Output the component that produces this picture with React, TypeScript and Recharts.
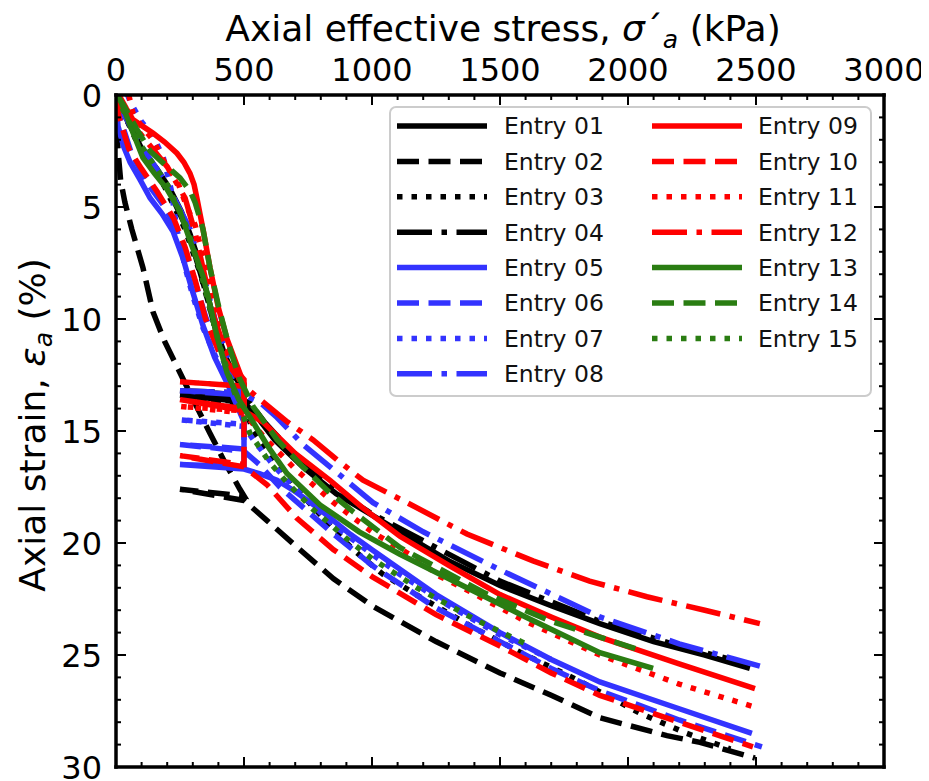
import React from 'react';
import { LineChart, Line, XAxis, YAxis, Legend } from 'recharts';

type Pt = [number, number];

// ---- Data: [axial effective stress (kPa), axial strain (%)] ----
const e01: Pt[] = [[0,0],[20,0.5],[43,1.1],[105,2.5],[160,3.3],[211,4.2],[255,5.2],[289,6.2],[315,7.1],[340,8.2],[368,9.4],[395,10.6],[425,11.6],[460,12.5],[500,13.2],[500,13.6],[250,13.4],[500,13.7],[560,14.5],[620,15.4],[730,16.6],[860,17.8],[992,18.7],[1109,19.5],[1300,20.8],[1500,21.9],[1700,22.8],[1890,23.6],[2100,24.4],[2300,25.0],[2476,25.6]];
const e02: Pt[] = [[0,0],[3,1.2],[8,2.5],[18,3.8],[35,4.8],[62,6.0],[105,7.7],[145,9.7],[190,11.0],[250,12.4],[310,13.8],[367,15.1],[425,16.4],[484,17.6],[500,17.9],[250,17.6],[500,18.1],[590,19.0],[719,20.3],[850,21.6],[1000,22.8],[1250,24.4],[1500,25.8],[1700,26.8],[1890,27.8],[2152,28.6],[2281,28.9],[2496,29.6]];
const e03: Pt[] = [[0,0],[25,0.7],[90,2.3],[190,4.1],[270,6.0],[330,8.0],[385,10.3],[440,12.2],[500,13.3],[500,13.7],[250,13.5],[500,13.8],[535,15.0],[640,16.6],[730,17.9],[926,20.3],[1043,21.4],[1187,22.4],[1400,23.8],[1600,25.0],[1800,26.1],[2047,27.6],[2230,28.5],[2400,29.2]];
const e04: Pt[] = [[0,0],[30,0.8],[95,2.3],[200,4.1],[282,6.1],[336,8.2],[392,10.6],[448,12.3],[500,13.0],[500,13.3],[250,13.2],[500,13.4],[580,14.6],[700,16.1],[850,17.6],[1000,18.7],[1200,19.9],[1500,21.7],[1890,23.5],[2200,24.6],[2470,25.4]];
const e05: Pt[] = [[0,0.4],[8,1.4],[30,2.3],[55,3.0],[95,3.8],[133,4.6],[180,5.3],[223,6.1],[262,7.3],[300,8.8],[340,10.3],[385,11.7],[440,13.0],[500,14.6],[500,16.6],[250,16.5],[500,16.7],[560,16.9],[629,17.2],[700,17.7],[785,18.4],[914,19.6],[1000,20.3],[1250,22.3],[1500,24.0],[1700,25.2],[1890,26.2],[2200,27.4],[2484,28.5]];
const e06: Pt[] = [[0,0.2],[15,1.0],[60,2.6],[120,3.9],[190,5.0],[250,6.3],[300,8.0],[350,9.9],[400,11.4],[450,12.6],[500,13.6],[500,15.8],[250,15.6],[500,15.9],[560,16.5],[640,17.5],[730,18.4],[850,19.6],[1000,21.0],[1250,22.9],[1500,24.4],[1700,25.6],[1890,26.6],[2200,27.9],[2523,29.1]];
const e07: Pt[] = [[45,0],[60,0.4],[100,1.2],[144,1.8],[185,2.8],[215,4.2],[238,6.0],[270,7.7],[301,9.0],[340,10.4],[390,11.7],[450,12.9],[500,13.8],[500,14.7],[250,14.5],[500,14.8],[550,15.6],[620,16.6],[730,17.9],[850,19.2],[1000,20.5],[1109,21.4],[1300,22.8],[1500,24.1],[1700,25.2]];
const e08: Pt[] = [[0,0],[28,0.8],[100,2.3],[200,4.0],[290,6.0],[345,8.2],[400,10.6],[450,12.0],[500,12.9],[500,13.3],[250,13.2],[500,13.4],[560,13.7],[629,14.4],[730,15.6],[836,16.6],[1004,18.2],[1200,19.5],[1500,21.2],[1890,23.3],[2200,24.5],[2515,25.5]];
const e09: Pt[] = [[0,0],[16,0.1],[40,0.6],[66,1.1],[105,1.4],[144,1.7],[190,2.1],[238,2.6],[265,3.0],[289,3.5],[305,4.0],[316,4.6],[328,5.3],[340,6.0],[367,7.7],[400,9.5],[434,10.9],[470,12.0],[500,12.9],[500,14.0],[250,13.6],[500,14.1],[574,14.6],[700,16.0],[836,17.2],[960,18.4],[1109,19.7],[1300,21.0],[1500,22.3],[1700,23.3],[1890,24.2],[2200,25.4],[2496,26.5]];
const e10: Pt[] = [[0,0.2],[12,1.0],[50,2.4],[100,3.3],[160,4.3],[225,5.5],[270,6.8],[310,8.3],[350,10.0],[400,11.4],[450,12.2],[500,13.0],[500,16.5],[250,16.1],[500,16.6],[590,17.4],[707,18.9],[850,20.3],[1000,21.5],[1250,23.2],[1500,24.6],[1700,25.8],[1890,26.8],[2200,28.0],[2488,29.1]];
const e11: Pt[] = [[50,0],[66,0.8],[100,1.4],[144,2.0],[199,3.2],[238,3.8],[277,5.0],[309,5.8],[340,7.2],[380,9.2],[430,11.2],[470,12.4],[500,13.2],[500,14.1],[250,13.9],[500,14.2],[580,15.3],[700,16.7],[850,18.2],[1000,19.5],[1160,20.6],[1266,21.5],[1371,22.1],[1600,23.5],[1890,25.0],[2200,26.3],[2488,27.3]];
const e12: Pt[] = [[0,0],[30,0.7],[100,1.8],[200,3.2],[270,4.6],[310,6.2],[345,8.0],[385,10.0],[430,11.5],[470,12.3],[500,12.7],[500,13.0],[250,12.8],[500,13.0],[574,13.7],[670,14.6],[770,15.4],[865,16.3],[965,17.2],[1137,18.2],[1371,19.6],[1629,20.8],[1850,21.7],[2074,22.4],[2300,23.0],[2515,23.6]];
const e13: Pt[] = [[0,0],[16,0.2],[60,1.5],[105,2.8],[150,3.5],[199,4.2],[250,5.2],[289,6.5],[315,7.3],[340,8.1],[368,9.4],[395,10.8],[434,12.4],[480,13.6],[535,14.6],[600,15.8],[668,16.9],[797,18.3],[950,19.5],[1109,20.5],[1371,22.0],[1600,23.3],[1890,24.9],[2098,25.6]];
const e14: Pt[] = [[0,0],[27,0.4],[80,1.5],[133,2.5],[190,3.1],[250,3.7],[290,4.3],[309,4.8],[325,5.4],[340,6.0],[367,7.7],[400,9.4],[434,10.9],[480,12.6],[535,13.9],[630,15.4],[730,16.6],[830,17.7],[926,18.6],[1109,20.2],[1434,22.2],[1700,23.5],[2050,24.8]];
const e15: Pt[] = [[0,0],[20,0.5],[100,2.3],[200,4.0],[280,6.0],[340,8.3],[400,11.0],[460,13.2],[523,15.1],[600,16.4],[668,17.3],[770,18.5],[900,19.8],[1000,20.7],[1109,21.5],[1176,22.0],[1400,23.4],[1600,24.5]];

const entryNames = ['Entry 01','Entry 02','Entry 03','Entry 04','Entry 05','Entry 06','Entry 07','Entry 08','Entry 09','Entry 10','Entry 11','Entry 12','Entry 13','Entry 14','Entry 15'];
const entryColors = ['#000000','#000000','#000000','#000000','#3333ff','#3333ff','#3333ff','#3333ff','#ff0000','#ff0000','#ff0000','#ff0000','#2a7d12','#2a7d12','#2a7d12'];
const entryStyles = ['solid','dashed','dotted','dashdot','solid','dashed','dotted','dashdot','solid','dashed','dotted','dashdot','solid','dashed','dotted'];
const entryData = [e01,e02,e03,e04,e05,e06,e07,e08,e09,e10,e11,e12,e13,e14,e15];

const xMajorTicks = [0, 500, 1000, 1500, 2000, 2500, 3000];
const yMajorTicks = [0, 5, 10, 15, 20, 25, 30];

const xAllTicks: number[] = [];
for (let v = 0; v <= 3000; v += 100) xAllTicks.push(v);
const yAllTicks: number[] = [];
for (let v = 0; v <= 30; v += 1) yAllTicks.push(v);

// ---- Layout ----
const W = 921, H = 773;
const PL = 108, PR = 876, PT = 87, PB = 759;
const FONT = 'DejaVu Sans';
const LW = 5.5;

const dashFor = (s: string) => {
  if (s === 'dashed') return '22 9.5';
  if (s === 'dotted') return '5.5 9';
  if (s === 'dashdot') return '35 9.5 5.5 9.5';
  return undefined;
};

const XTopTick = (props: any) => {
  const { x, payload } = props;
  const v = payload.value;
  const major = xMajorTicks.includes(v);
  return (
    <g>
      <line x1={x} x2={x} y1={PT} y2={PT + (major ? 10 : 5)} stroke="#000" strokeWidth={2} />
      {major && (
        <text x={x} y={73} textAnchor="middle" fontSize={32} fontFamily={FONT} fill="#000">{v}</text>
      )}
    </g>
  );
};
const XBottomTick = (props: any) => {
  const { x, payload } = props;
  const major = xMajorTicks.includes(payload.value);
  return <line x1={x} x2={x} y1={PB} y2={PB - (major ? 10 : 5)} stroke="#000" strokeWidth={2} />;
};
const YLeftTick = (props: any) => {
  const { y, payload } = props;
  const v = payload.value;
  const major = yMajorTicks.includes(v);
  return (
    <g>
      <line x1={PL} x2={PL + (major ? 10 : 5)} y1={y} y2={y} stroke="#000" strokeWidth={2} />
      {major && (
        <text x={94} y={y} dy="0.36em" textAnchor="end" fontSize={32} fontFamily={FONT} fill="#000">{v}</text>
      )}
    </g>
  );
};
const YRightTick = (props: any) => {
  const { y, payload } = props;
  const major = yMajorTicks.includes(payload.value);
  return <line x1={PR} x2={PR - (major ? 10 : 5)} y1={y} y2={y} stroke="#000" strokeWidth={2} />;
};

const XTitle = () => (
  <text x={495} y={33} textAnchor="middle" fontSize={36} fontFamily={FONT} fill="#000">
    Axial effective stress, <tspan fontStyle="italic">σ</tspan>´<tspan fontStyle="italic" fontSize={25} dy={7}>a</tspan><tspan dy={-7}> (kPa)</tspan>
  </text>
);
const YTitle = () => (
  <text x={37} y={417} transform="rotate(-90, 37, 417)" textAnchor="middle" fontSize={36} fontFamily={FONT} fill="#000">
    Axial strain, <tspan fontStyle="italic">ε</tspan><tspan fontStyle="italic" fontSize={25} dy={7}>a</tspan><tspan dy={-7}> (%)</tspan>
  </text>
);

const LegendBox = () => (
  <svg width={483} height={291} style={{ display: 'block', overflow: 'visible' }}>
    <rect x={1} y={1} width={481} height={289} rx={6} ry={6} fill="#ffffff" fillOpacity={0.85} stroke="#cccccc" strokeWidth={2} />
    {entryNames.map((name, i) => {
      const col = i < 8 ? 0 : 1;
      const row = i < 8 ? i : i - 8;
      const cy = 20 + 35.4 * row;
      const lx1 = col === 0 ? 8 : 263;
      const lx2 = col === 0 ? 98 : 353;
      const tx = col === 0 ? 115 : 369;
      return (
        <g key={name}>
          <line x1={lx1} x2={lx2} y1={cy} y2={cy} stroke={entryColors[i]} strokeWidth={LW} strokeDasharray={dashFor(entryStyles[i])} />
          <text x={tx} y={cy} dy="0.36em" fontSize={23.5} fontFamily={FONT} fill="#111">{name}</text>
        </g>
      );
    })}
  </svg>
);

export default function App() {
  return (
    <div style={{ width: W, height: H, position: 'relative' }}>
      <LineChart width={W} height={H} margin={{ top: 47, right: 44, bottom: 13, left: 48 }}>
        <XAxis
          xAxisId="top"
          orientation="top"
          type="number"
          dataKey="x"
          domain={[0, 3000]}
          allowDataOverflow
          ticks={xAllTicks}
          interval={0}
          tick={<XTopTick />}
          tickLine={false}
          axisLine={{ stroke: '#000', strokeWidth: 3.5, strokeLinecap: 'square' }}
          height={40}
          label={{ content: XTitle } as any}
        />
        <XAxis
          xAxisId="bottom"
          orientation="bottom"
          type="number"
          dataKey="x"
          domain={[0, 3000]}
          allowDataOverflow
          ticks={xAllTicks}
          interval={0}
          tick={<XBottomTick />}
          tickLine={false}
          axisLine={{ stroke: '#000', strokeWidth: 3.5, strokeLinecap: 'square' }}
          height={1}
        />
        <YAxis
          yAxisId="left"
          type="number"
          domain={[0, 30]}
          reversed
          allowDataOverflow
          ticks={yAllTicks}
          interval={0}
          tick={<YLeftTick />}
          tickLine={false}
          axisLine={{ stroke: '#000', strokeWidth: 3.5, strokeLinecap: 'square' }}
          width={60}
          label={{ content: YTitle } as any}
        />
        <YAxis
          yAxisId="right"
          orientation="right"
          type="number"
          domain={[0, 30]}
          reversed
          allowDataOverflow
          ticks={yAllTicks}
          interval={0}
          tick={<YRightTick />}
          tickLine={false}
          axisLine={{ stroke: '#000', strokeWidth: 3.5, strokeLinecap: 'square' }}
          width={1}
        />
        {entryData.map((pts, i) => (
          <Line
            key={entryNames[i]}
            name={entryNames[i]}
            xAxisId="top"
            yAxisId="left"
            data={pts.map(([x, y]) => ({ x, y }))}
            dataKey="y"
            type="linear"
            stroke={entryColors[i]}
            strokeWidth={LW}
            strokeDasharray={dashFor(entryStyles[i])}
            dot={false}
            activeDot={false}
            isAnimationActive={false}
          />
        ))}
        <Legend
          layout="horizontal"
          verticalAlign="middle"
          align="center"
          content={() => <LegendBox />}
          wrapperStyle={{ position: 'absolute', left: 381, top: 98, width: 483, height: 291, margin: 0, padding: 0 }}
        />
      </LineChart>
    </div>
  );
}
